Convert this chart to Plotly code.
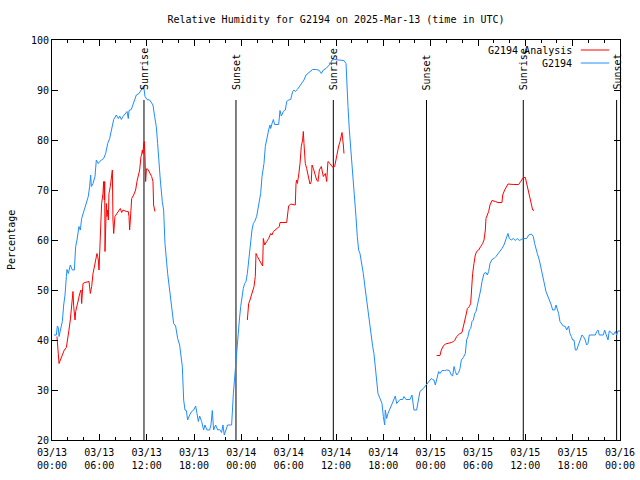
import pandas as pd
import plotly.graph_objects as go

# ---------------- data (hours since 2025-03-13 00:00 UTC) ----------------
obs_hours = [0.25, 0.55, 0.68, 0.80, 0.89, 1.06, 1.31, 1.48, 1.65, 1.82, 1.90, 2.07, 2.32, 2.58, 2.83,
             3.00, 3.17, 3.42, 3.59, 3.76, 4.01, 4.35, 4.60, 4.77, 4.90, 4.99, 5.20, 5.45, 5.62, 5.87,
             6.04, 6.29, 6.55, 6.80, 7.06, 7.31, 7.56, 7.82, 8.15, 8.41, 8.58, 8.79, 9.00, 9.25, 9.51,
             9.67, 9.76, 10.05, 10.35, 10.69, 11.03, 11.36, 11.62, 11.79, 12.04, 12.38, 12.80, 13.01,
             13.22, 13.39, 13.56, 13.73, 13.98, 14.15, 14.32, 14.49, 14.66, 14.91, 15.17, 15.42, 15.67,
             15.93, 16.18, 16.35, 16.52, 16.69, 16.86, 17.03, 17.19, 17.45, 17.70, 17.96, 18.21, 18.38,
             18.55, 18.72, 18.97, 19.22, 19.39, 19.65, 19.98, 20.15, 20.32, 20.49, 20.74, 21.00, 21.25,
             21.50, 21.67, 21.84, 22.01, 22.26, 22.60, 22.77,
             22.99, 23.16, 23.32, 23.41, 23.58, 23.75, 23.92, 24.08, 24.25, 24.42, 24.59, 24.76, 24.93,
             25.10, 25.35, 25.52, 25.69, 25.94, 26.20, 26.45, 26.62, 26.79, 26.87, 27.04, 27.21, 27.46,
             27.63, 27.72, 27.89, 28.06, 28.22, 28.73, 28.90, 29.07, 29.32, 29.58, 29.75, 30.00, 30.25,
             30.51, 30.68, 30.84, 31.10, 31.44, 31.69, 31.94, 32.20, 32.53, 32.79, 33.04, 33.55, 33.89,
             34.14, 34.39, 34.73, 35.07, 35.32, 35.49, 35.83, 36.34, 37.01, 37.27, 37.35, 37.52, 37.69,
             37.86, 38.03, 38.20, 38.36, 38.53, 38.70, 38.87, 39.04, 39.29, 39.46, 39.72, 39.89, 40.14,
             40.39, 40.65, 40.81, 40.98, 41.15, 41.32, 41.58, 41.83, 42.00, 42.17, 42.25, 42.42, 42.59,
             42.76, 43.01, 43.26, 43.52, 43.69, 43.94, 44.11, 44.45, 44.62, 44.87, 45.38, 45.63, 45.80,
             45.88, 46.22, 46.48, 46.64, 47.07, 47.49, 47.83,
             48.08, 48.25, 48.42, 48.59, 48.76, 49.01, 49.18, 49.44, 49.77, 50.03, 50.37, 50.62, 50.79,
             50.96, 51.13, 51.30, 51.55, 51.72, 51.89, 52.14, 52.39, 52.56, 52.73, 52.90, 53.07, 53.24,
             53.41, 53.58, 53.75, 54.00, 54.17, 54.34, 54.51, 54.76, 55.01, 55.18, 55.35, 55.52, 55.77,
             56.03, 56.28, 56.53, 56.79, 57.04, 57.29, 57.55, 57.80, 57.97, 58.22, 58.48, 58.73, 58.98,
             59.24, 59.49, 59.74, 60.17, 60.42, 60.76, 61.01, 61.18, 61.35, 61.52, 61.77, 61.94, 62.11,
             62.28, 62.45, 62.62, 62.79, 62.96, 63.12, 63.29, 63.46, 63.72, 63.89, 64.05, 64.22, 64.39,
             64.65, 64.81, 65.07, 65.24, 65.49, 65.66, 65.83, 66.00, 66.17, 66.34, 66.50, 66.67, 66.93,
             67.18, 67.35, 67.60, 67.77, 67.94, 68.11, 68.45, 68.87, 69.04, 69.21, 69.38, 69.88, 70.05,
             70.31, 70.48, 70.64, 70.90, 71.15, 71.41, 71.57, 71.74, 72.00]
obs_values = [41.0, 41.0, 42.8, 42.5, 40.7, 42.0, 43.7, 47.0, 49.0, 52.7, 54.1, 53.3, 55.0, 54.0, 54.0,
              58.7, 60.0, 62.7, 62.0, 64.3, 65.5, 67.3, 68.7, 70.7, 73.0, 70.7, 71.3, 72.7, 76.0, 75.3,
              75.7, 76.0, 76.3, 77.3, 79.3, 80.3, 82.0, 84.1, 85.0, 84.3, 84.8, 84.1, 84.7, 85.3, 85.7,
              84.3, 85.9, 86.1, 87.3, 89.0, 89.3, 90.1, 90.8, 88.7, 88.1, 88.0, 87.0, 84.7,
              82.7, 79.3, 75.3, 72.0, 67.7, 66.0, 59.3, 56.0, 53.3, 50.0, 46.7, 43.3, 42.8,
              40.3, 39.0, 37.3, 34.7, 28.0, 26.0, 25.9, 24.0, 25.0, 25.7, 26.0, 26.8, 25.3,
              23.7, 24.8, 23.7, 22.0, 23.0, 22.0, 22.0, 23.0, 25.9, 22.0, 23.0, 22.0, 22.1,
              21.5, 23.0, 21.0, 22.0, 23.0, 23.0, 23.0,
              29.3, 32.7, 35.3, 38.7, 41.3, 44.0, 46.7, 49.0, 50.3, 51.3, 51.7, 53.3, 56.0,
              58.7, 62.0, 63.3, 63.7, 64.7, 67.3, 69.3, 72.7, 74.7, 75.3, 78.7, 80.3, 82.0,
              83.0, 82.3, 83.3, 84.1, 83.1, 83.1, 85.9, 84.8, 85.7, 86.0, 87.7, 88.0, 88.1,
              89.7, 90.0, 89.7, 90.1, 90.8, 91.3, 92.0, 93.0, 93.5, 93.7, 94.1, 94.1, 93.9,
              93.3, 94.0, 94.3, 94.8, 95.3, 96.0, 96.1, 96.0, 95.9, 95.3, 92.0, 86.7, 82.0,
              78.7, 75.3, 72.7, 69.3, 64.7, 60.7, 58.0, 57.3, 55.0, 53.3, 50.0, 47.7, 44.7,
              42.0, 38.7, 37.3, 34.3, 31.3, 29.3, 28.3, 27.3, 24.7, 23.0, 26.0, 24.3, 25.3,
              26.0, 27.0, 28.0, 28.8, 27.3, 27.7, 28.1, 28.1, 28.7, 28.1, 28.1, 29.0, 27.3,
              26.0, 26.0, 28.3, 29.7, 30.3, 31.2, 31.9,
              32.3, 32.1, 32.0, 31.0, 32.1, 33.7, 33.3, 33.9, 33.9, 34.0, 33.9, 33.0, 32.8,
              34.7, 33.7, 33.0, 33.5, 34.3, 36.0, 36.5, 37.3, 40.0, 40.7, 42.0, 42.3, 43.7,
              44.0, 45.3, 45.7, 47.3, 48.3, 50.0, 51.7, 53.3, 53.5, 53.0, 53.7, 55.3, 56.1,
              56.3, 56.7, 57.2, 57.7, 58.3, 59.0, 60.0, 61.3, 60.3, 60.0, 60.3, 59.9, 60.3,
              59.9, 60.1, 60.3, 60.3, 61.0, 61.2, 60.7, 59.3, 58.0, 57.3, 56.0, 54.7, 53.3,
              52.0, 51.0, 49.7, 49.0, 48.3, 48.0, 47.0, 46.0, 46.0, 47.0, 46.3, 45.3, 43.7,
              43.0, 42.8, 42.7, 42.0, 42.8, 41.3, 40.7, 40.0, 40.0, 38.0, 38.0, 38.7, 40.0,
              41.0, 40.7, 40.0, 39.0, 39.3, 41.0, 41.0, 41.0, 41.7, 42.0, 41.0, 41.0, 42.0,
              41.0, 40.0, 41.8, 41.5, 41.0, 41.7, 41.0, 41.8, 41.8]

ana_hours = [0.63, 0.72, 0.80, 0.89, 1.06, 1.31, 1.56, 1.82, 1.99, 2.15, 2.32, 2.49, 2.58, 2.66, 2.75,
             2.83, 2.92, 3.00, 3.17, 3.34, 3.51, 3.68, 3.76, 3.93, 4.18, 4.52, 4.69, 4.86, 5.03, 5.20,
             5.37, 5.53, 5.70, 5.79, 5.87, 5.96, 6.13, 6.29, 6.46, 6.55, 6.63, 6.68, 6.72, 6.80, 6.89,
             6.97, 7.06, 7.14, 7.22, 7.39, 7.56, 7.65, 7.73, 7.82, 7.98, 8.24, 8.49, 8.66, 8.83, 9.00,
             9.42, 9.67, 9.76, 9.84, 9.93, 10.10, 10.35, 10.60, 10.77, 10.94, 11.11, 11.28, 11.36, 11.45,
             11.53, 11.62, 11.70, 11.79, 11.87, 11.96, 12.04, 12.21, 12.46, 12.63, 12.80, 12.88, 13.05,
             None,
             24.76, 24.84, 24.93, 25.10, 25.27, 25.44, 25.61, 25.77, 25.86, 26.03, 26.28, 26.53, 26.70,
             26.79, 26.96, 27.21, 27.46, 27.72, 27.89, 28.06, 28.31, 28.56, 28.82, 28.90, 29.75, 29.91,
             30.00, 30.25, 30.84, 30.93, 31.01, 31.10, 31.18, 31.27, 31.44, 31.60, 31.77, 31.86, 31.94,
             32.11, 32.28, 32.45, 32.62, 32.70, 32.87, 32.96, 33.13, 33.29, 33.55, 33.72, 33.89, 34.14,
             34.39, 34.65, 34.82, 34.98, 35.24, 35.49, 35.66, 35.83, 36.00, 36.17, 36.34, 36.51, 36.67,
             36.76, 36.93, 37.01,
             None,
             48.76, 49.18, 49.35, 49.61, 49.86, 50.28, 50.62, 50.87, 51.04, 51.30, 51.63, 51.97, 52.14,
             52.31, 52.48, 52.65, 52.90, 53.07, 53.15, 53.24, 53.32, 53.49, 53.66, 53.83, 54.08, 54.34,
             54.59, 54.76, 54.93, 55.01, 55.18, 55.35, 55.52, 55.77, 56.20, 56.53, 57.04, 57.13, 57.38,
             57.63, 57.80, 58.48, 59.15, 59.41, 59.74, 60.00, 60.17, 60.42, 60.59, 60.76, 60.93, 61.10]
ana_values = [40.7, 38.3, 35.7, 35.3, 36.0, 37.0, 38.0, 38.5, 40.0, 42.0, 44.0, 46.7, 48.7, 49.7, 46.7,
              44.3, 44.0, 45.7, 46.7, 48.0, 49.3, 50.0, 47.3, 51.3, 51.5, 51.7, 51.7, 49.3, 50.7, 53.3,
              54.7, 55.7, 57.3, 56.7, 56.0, 54.0, 63.3, 67.3, 69.3, 71.7, 68.0, 71.7, 57.7, 64.0, 67.3,
              64.7, 66.0, 64.0, 69.3, 70.7, 72.7, 74.0, 64.0, 61.3, 64.7, 65.3, 65.7, 66.3, 65.5, 66.0,
              65.7, 65.7, 64.7, 62.0, 64.0, 68.3, 69.0, 70.0, 71.7, 73.0, 74.0, 76.7, 77.0, 78.0,
              77.3, 79.3, 79.7, 76.7, 71.7, 74.0, 74.3, 74.0, 73.2, 72.7, 71.7, 67.0, 65.7,
              None,
              44.0, 45.7, 47.3, 48.0, 49.0, 50.0, 50.7, 52.7, 57.3, 56.7, 56.0, 55.3, 54.8,
              60.3, 59.0, 59.7, 60.3, 61.3, 61.0, 61.7, 62.0, 62.3, 62.7, 63.5, 63.5, 65.7,
              66.8, 67.2, 67.0, 71.3, 72.0, 71.3, 72.7, 73.0, 75.3, 78.7, 80.0, 81.7, 79.3,
              75.3, 74.3, 73.0, 71.7, 71.2, 71.7, 75.0, 74.3, 73.3, 72.0, 71.7, 74.0, 74.7,
              72.7, 73.3, 71.7, 75.7, 75.3, 74.7, 74.5, 74.7, 76.3, 78.0, 78.8, 79.7, 80.7,
              81.5, 79.0, 77.3,
              None,
              36.9, 36.9, 38.0, 38.8, 39.2, 39.3, 39.5, 39.7, 39.9, 40.7, 41.2, 41.5, 42.5,
              44.0, 45.0, 46.3, 46.7, 47.3, 49.3, 51.3, 53.3, 55.3, 57.0, 57.7, 58.0, 58.7,
              59.3, 60.0, 62.0, 64.3, 65.0, 65.7, 67.0, 67.9, 67.7, 67.5, 67.5, 69.0, 70.0,
              70.8, 71.2, 71.1, 71.1, 71.7, 72.5, 72.5, 71.3, 69.7, 68.7, 67.7, 66.0, 65.9]

sun_event_hours = [11.66, 23.32, 35.66, 47.47, 59.74, 71.57]
sun_event_labels = ["Sunrise", "Sunset", "Sunrise", "Sunset", "Sunrise", "Sunset"]

series_names = ["G2194 Analysis", "G2194"]
series_colors = ["#ff0000", "#1e8cff"]

title_text = "Relative Humidity for G2194 on 2025-Mar-13 (time in UTC)"
y_label = "Percentage"

# ---------------- build ----------------
base = pd.Timestamp("2025-03-13 00:00:00")


def to_time(hours):
    return [None if h is None else base + pd.Timedelta(hours=h) for h in hours]


FONT = "DejaVu Sans Mono"
fig = go.Figure()

fig.add_trace(go.Scatter(x=to_time(ana_hours), y=ana_values, mode="lines",
                         line=dict(color=series_colors[0], width=1, shape="linear"),
                         connectgaps=False, showlegend=False, name=series_names[0]))
fig.add_trace(go.Scatter(x=to_time(obs_hours), y=obs_values, mode="lines",
                         line=dict(color=series_colors[1], width=1),
                         showlegend=False, name=series_names[1]))

for h, lab in zip(sun_event_hours, sun_event_labels):
    t = base + pd.Timedelta(hours=h)
    fig.add_shape(type="line", xref="x", yref="y", x0=t, x1=t, y0=20, y1=88,
                  line=dict(color="black", width=1), layer="below")
    fig.add_annotation(x=t, y=89.6, xref="x", yref="y", text=lab, textangle=-90,
                       showarrow=False, xanchor="center", yanchor="bottom",
                       font=dict(family=FONT, size=10, color="black"))

# manual gnuplot-style key (text, then line sample to its right)
key_rows_y = [0.975, 0.9425]
for name, col, yy in zip(series_names, series_colors, key_rows_y):
    fig.add_annotation(x=0.919, y=yy, xref="paper", yref="paper", text=name, showarrow=False,
                       xanchor="right", yanchor="middle",
                       font=dict(family=FONT, size=10, color="black"))
    fig.add_shape(type="line", xref="paper", yref="paper", x0=0.931, x1=0.981, y0=yy, y1=yy,
                  line=dict(color=col, width=1))

fig.add_annotation(x=-0.0722, y=0.5, xref="paper", yref="paper", text=y_label, textangle=-90,
                   showarrow=False, xanchor="center", yanchor="middle",
                   font=dict(family=FONT, size=10, color="black"))

fig.update_layout(
    width=640, height=480,
    margin=dict(l=52, r=20, t=40, b=40, pad=0, autoexpand=False),
    paper_bgcolor="white", plot_bgcolor="white",
    font=dict(family=FONT, size=10, color="black"),
    title=dict(text=title_text, x=0.5, xref="paper", y=1 - 19 / 480, yref="container",
               xanchor="center", yanchor="middle", font=dict(family=FONT, size=10, color="black")),
    showlegend=False,
)

fig.update_xaxes(
    type="date",
    range=[base, base + pd.Timedelta(hours=72)],
    tickformat="%m/%d<br>%H:%M",
    dtick=6 * 3600 * 1000,
    tick0=base,
    ticks="inside", ticklen=6, tickcolor="black", tickwidth=1,
    ticklabelstandoff=3,
    minor=dict(dtick=2 * 3600 * 1000, ticks="inside", ticklen=3, tickcolor="black", showgrid=False),
    showline=True, linecolor="black", linewidth=1, mirror="ticks",
    showgrid=False, zeroline=False, automargin=False,
    tickfont=dict(family=FONT, size=10, color="black"),
)
fig.update_yaxes(
    range=[20, 100], dtick=10, tick0=20,
    ticks="inside", ticklen=6, tickcolor="black", tickwidth=1,
    showline=True, linecolor="black", linewidth=1, mirror="ticks",
    showgrid=False, zeroline=False, automargin=False,
    tickfont=dict(family=FONT, size=10, color="black"),
)

fig.write_html("out.html", config={"displayModeBar": False},
               post_script="document.body.style.margin='0px';document.body.style.padding='0px';")
